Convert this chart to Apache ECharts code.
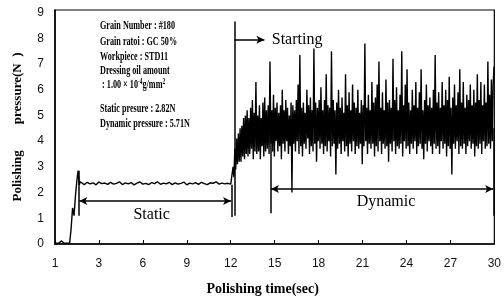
<!DOCTYPE html>
<html>
<head>
<meta charset="utf-8">
<script src="https://cdn.jsdelivr.net/npm/echarts@6/dist/echarts.min.js"></script>
<style>
  html, body { margin: 0; padding: 0; background: #fff; }
  #chart { width: 504px; height: 302px; }
</style>
</head>
<body>
<div id="chart"></div>
<script>
// x tick labels (axis runs 0..30, first label printed as "1")
const xTicks = ['1', '3', '6', '9', '12', '15', '18', '21', '24', '27', '30'];

// start-up ramp (time s, load N)
const rampTime = [0, 0.25, 0.35, 0.45, 0.6, 0.8, 1.0, 1.1, 1.2, 1.3, 1.4, 1.5, 1.58, 1.66, 1.72];
const rampLoad = [0.03, 0.03, 0.1, 0.12, 0.04, 0.03, 0.04, 0.6, 1.4, 1.1, 1.9, 2.5, 2.85, 2.3, 2.42];

// static phase, sampled every 0.2 s from 1.8 s
const flatStart = 1.8;
const flatStep = 0.2;
const flatLoad = [
    2.36, 2.31, 2.40, 2.34, 2.38, 2.30, 2.41, 2.35, 2.37, 2.32,
    2.40, 2.33, 2.36, 2.42, 2.31, 2.38, 2.34, 2.39, 2.30, 2.37,
    2.41, 2.33, 2.36, 2.31, 2.39, 2.35, 2.42, 2.32, 2.37, 2.34,
    2.40, 2.31, 2.38, 2.33, 2.36, 2.41, 2.30, 2.37, 2.34, 2.39,
    2.32, 2.40, 2.35, 2.31, 2.38, 2.36, 2.42, 2.33, 2.37, 2.34,
    2.36, 2.33
];

// dynamic phase, sampled every 0.06 s from 12.1 s
const dynStart = 12.1;
const dynStep = 0.06;
const dynLoad = [
    2.40, 3.00, 2.60, 3.70, 2.90, 4.10, 3.10, 4.30, 3.20, 4.50,
    3.20, 4.60, 3.40, 4.90, 3.30, 5.00, 3.50, 5.20, 3.40, 4.90,
    3.50, 5.30, 3.70, 5.60, 3.30, 5.10, 3.60, 6.30, 3.50, 5.00,
    3.60, 5.40, 3.30, 4.90, 3.80, 5.50, 3.40, 5.70, 3.60, 5.20,
    3.70, 5.40, 3.50, 7.10, 3.90, 5.20, 3.60, 5.80, 3.40, 5.30,
    4.00, 5.50, 3.60, 5.10, 3.80, 5.40, 3.30, 6.00, 3.90, 5.20,
    3.60, 5.60, 4.00, 5.30, 3.50, 5.00, 3.80, 5.50, 2.00, 5.40,
    3.90, 5.20, 3.60, 5.60, 4.00, 6.20, 3.50, 7.35, 3.80, 5.30,
    3.40, 5.50, 3.90, 5.10, 3.70, 6.00, 4.10, 5.40, 3.50, 5.70,
    3.80, 5.20, 3.60, 7.60, 3.90, 5.50, 3.20, 5.30, 4.00, 5.60,
    3.70, 6.10, 3.90, 5.20, 3.50, 5.60, 3.80, 6.60, 3.60, 5.40,
    4.00, 5.30, 3.40, 7.50, 3.80, 5.60, 3.90, 5.20, 2.70, 5.50,
    3.70, 6.00, 3.90, 5.30, 3.50, 5.70, 4.00, 5.10, 3.60, 6.60,
    3.80, 5.40, 3.40, 5.90, 3.90, 5.20, 3.60, 6.20, 4.00, 5.50,
    3.50, 5.30, 3.80, 6.00, 3.70, 5.10, 3.90, 5.60, 3.10, 5.40,
    3.80, 7.80, 4.00, 5.30, 3.50, 5.80, 3.90, 5.20, 3.70, 6.30,
    3.90, 5.50, 3.40, 5.70, 3.80, 6.20, 3.60, 7.10, 4.00, 5.30,
    3.50, 5.90, 3.90, 5.20, 3.70, 6.40, 3.80, 5.50, 3.20, 5.60,
    3.90, 5.30, 3.60, 7.20, 4.00, 5.60, 3.50, 6.10, 3.80, 5.20,
    3.70, 5.80, 3.90, 7.50, 3.40, 5.40, 4.00, 6.20, 3.70, 6.80,
    3.80, 5.50, 3.50, 5.20, 3.90, 6.00, 3.70, 5.40, 4.00, 6.30,
    3.50, 5.30, 3.80, 5.90, 3.90, 6.80, 3.70, 5.20, 3.30, 5.60,
    3.90, 6.20, 3.60, 5.40, 4.00, 5.70, 3.80, 5.30, 3.50, 6.00,
    3.90, 7.35, 3.70, 5.50, 3.80, 5.90, 3.50, 5.30, 4.00, 6.30,
    3.70, 5.40, 3.90, 6.00, 3.40, 5.60, 3.80, 6.50, 3.70, 5.30,
    2.70, 5.70, 3.90, 6.20, 3.70, 5.40, 4.00, 5.90, 3.50, 6.80,
    3.80, 5.50, 3.70, 6.30, 3.90, 5.30, 3.50, 5.80, 3.80, 5.60,
    4.00, 6.20, 3.70, 5.40, 3.90, 6.00, 3.40, 5.50, 3.80, 6.60,
    3.70, 5.60, 3.90, 6.30, 3.50, 5.40, 4.00, 6.20, 3.70, 5.50,
    3.80, 7.10, 3.90, 5.80, 3.70, 6.40, 4.00, 6.20, 6.90
];

const infoLines = [
    'Grain Number : #180',
    'Grain ratoi : GC 50%',
    'Workpiece : STD11',
    'Dressing oil amount',
    ' : 1.00 × 10{s|-4}g/mm{s|2}',
    'Static presure : 2.82N',
    'Dynamic pressure : 5.71N'
];
const infoY = [26, 42, 57, 71, 85, 109, 124];

// build the trace
let trace = [];
rampTime.forEach((t, i) => trace.push([t, rampLoad[i]]));
flatLoad.forEach((v, i) => trace.push([+(flatStart + i * flatStep).toFixed(2), v]));
dynLoad.forEach((v, i) => trace.push([+(dynStart + i * dynStep).toFixed(2), v]));

const lineStyle = { color: '#000', width: 1.5, type: 'solid' };
function seg(a, b, arrows) {
    return [
        { coord: a, symbol: arrows[0] },
        { coord: b, symbol: arrows[1] }
    ];
}

const chart = echarts.init(document.getElementById('chart'), null, { renderer: 'canvas' });
const serif = '"Liberation Serif", "Times New Roman", serif';

const option = {
    animation: false,
    backgroundColor: '#fff',
    grid: {
        left: 55, right: 7, top: 10, bottom: 58,
        show: true, borderColor: '#000', borderWidth: 1.2
    },
    xAxis: {
        type: 'value',
        min: 0, max: 30, interval: 3,
        name: 'Polishing time(sec)',
        nameLocation: 'middle',
        nameGap: 38,
        nameTextStyle: {
            fontFamily: serif, fontWeight: 'bold', fontSize: 14, color: '#000',
            verticalAlign: 'top', padding: [0, 24, 0, 0]
        },
        axisLine: { lineStyle: { color: '#000', width: 1.5 } },
        axisTick: { show: true, inside: true, length: 4, lineStyle: { color: '#000' } },
        axisLabel: {
            margin: 14, color: '#111', fontSize: 12, fontFamily: 'Liberation Sans',
            formatter: v => xTicks[Math.round(v / 3)]
        },
        splitLine: { show: false }
    },
    yAxis: {
        type: 'value',
        min: 0, max: 9.1, interval: 1,
        name: 'Polishing        pressure(N  )',
        nameLocation: 'middle',
        nameRotate: 90,
        nameGap: 31,
        nameTextStyle: { fontFamily: serif, fontWeight: 'bold', fontSize: 13, color: '#000' },
        axisLine: { show: true, lineStyle: { color: '#000', width: 1.5 } },
        axisTick: { show: false },
        axisLabel: {
            margin: 11, color: '#111', fontSize: 12, fontFamily: 'Liberation Sans',
            showMaxLabel: false,
            formatter: v => (Number.isInteger(v) ? String(v) : '')
        },
        splitLine: { show: false }
    },
    series: [
        {
            type: 'line',
            data: trace,
            showSymbol: false,
            lineStyle: { color: '#000', width: 1.4 },
            silent: true,
            markLine: {
                silent: true,
                animation: false,
                symbolSize: [6, 8],
                label: { show: false },
                lineStyle: lineStyle,
                data: [
                    // Static
                    seg([1.62, 1.1], [1.62, 2.85], ['none', 'none']),
                    seg([12.05, 1.05], [12.05, 2.3], ['none', 'none']),
                    seg([1.66, 1.67], [12.02, 1.67], ['arrow', 'arrow']),
                    // Starting
                    seg([12.25, 1.1], [12.25, 8.65], ['none', 'none']),
                    seg([12.25, 7.94], [14.3, 7.94], ['none', 'arrow']),
                    // Dynamic
                    seg([14.7, 1.2], [14.7, 4.5], ['none', 'none']),
                    seg([29.95, 1.1], [29.95, 4.5], ['none', 'none']),
                    seg([14.75, 2.14], [29.92, 2.14], ['arrow', 'arrow'])
                ]
            }
        }
    ]
};
chart.setOption(option);

// text annotations placed in data coordinates
function at(x, y) {
    return chart.convertToPixel({ gridIndex: 0 }, [x, y]);
}
const pStatic = at(6.6, 1.13);
const pDynamic = at(22.6, 1.63);
const pStarting = at(14.8, 7.94);

let graphics = [];
graphics.push({
    type: 'text', x: pStatic[0], y: pStatic[1], silent: true,
    style: { text: 'Static', font: '16px ' + serif, fill: '#000', align: 'center', verticalAlign: 'middle' }
});
graphics.push({
    type: 'text', x: pDynamic[0], y: pDynamic[1], silent: true,
    style: { text: 'Dynamic', font: '16px ' + serif, fill: '#000', align: 'center', verticalAlign: 'middle' }
});
graphics.push({
    type: 'text', x: pStarting[0], y: pStarting[1], silent: true,
    style: { text: 'Starting', font: '16px ' + serif, fill: '#000', align: 'left', verticalAlign: 'middle' }
});
infoLines.forEach((line, i) => {
    graphics.push({
        type: 'text', x: 100, y: infoY[i], scaleX: 0.68, silent: true,
        style: {
            text: line,
            font: 'bold 12px ' + serif,
            fill: '#000',
            align: 'left',
            verticalAlign: 'middle',
            rich: {
                s: { font: 'bold 8px ' + serif, fill: '#000', verticalAlign: 'top', padding: [0, 0, 6, 0] }
            }
        }
    });
});
chart.setOption({ graphic: graphics });
</script>
</body>
</html>
